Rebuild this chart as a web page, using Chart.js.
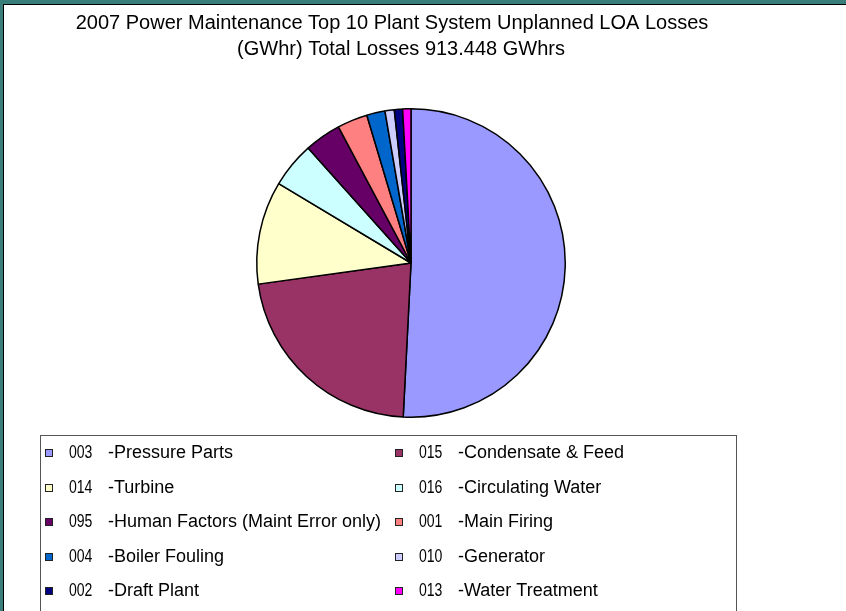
<!DOCTYPE html>
<html>
<head>
<meta charset="utf-8">
<script src="https://cdn.jsdelivr.net/npm/chart.js@4"></script>
<style>
  html, body { margin: 0; padding: 0; background: #fff; }
  #frame {
    position: absolute; left: 0; top: 0; width: 843px; height: 607px;
    border-top: 4px solid #3a7e7b; border-left: 3px solid #3a7e7b;
  }
  #inner {
    position: absolute; left: 0; top: 0; right: 0; bottom: 0;
    border-top: 1px solid #000; border-left: 1px solid #000; background: #fff;
  }
  #wrap { position: absolute; left: 0; top: 0; width: 846px; height: 611px; }
</style>
</head>
<body>
<div id="frame"><div id="inner"></div></div>
<div id="wrap"><canvas id="grafico" width="846" height="611"></canvas></div>
<script>
const titulo = [
  "2007 Power Maintenance Top 10 Plant System Unplanned LOA Losses",
  "(GWhr) Total Losses 913.448 GWhrs"
];
const codigos = ["003", "015", "014", "016", "095", "001", "004", "010", "002", "013"];
const sistemas = [
  "-Pressure Parts", "-Condensate & Feed", "-Turbine",
  "-Circulating Water", "-Human Factors (Maint Error only)",
  "-Main Firing", "-Boiler Fouling", "-Generator",
  "-Draft Plant", "-Water Treatment"
];
// GWhr
const perdidas = [464.0, 201.0, 98.5, 43.6, 35.0, 29.0, 17.5, 8.9, 7.9, 7.9];
const colores = [
  "#9999ff", "#993366", "#ffffcc", "#ccffff", "#660066",
  "#ff8080", "#0066cc", "#ccccff", "#000080", "#ff00ff"
];

const categorias = codigos.map((c, i) => c + "  " + sistemas[i]);

// titulo y leyenda en caja, dibujados a mano
const textos = {
  id: "textos",
  afterDraw(chart) {
    const ctx = chart.ctx;
    ctx.save();
    ctx.fillStyle = "#000";
    ctx.textAlign = "center";
    ctx.textBaseline = "alphabetic";
    ctx.font = "20px 'Liberation Sans', Arial, sans-serif";
    ctx.fillText(titulo[0], 392, 29);
    ctx.fillText(titulo[1], 401, 55);

    // caja de la leyenda
    ctx.strokeStyle = "#555";
    ctx.lineWidth = 1;
    ctx.strokeRect(40.5, 435.5, 696, 200);

    ctx.textAlign = "left";
    ctx.textBaseline = "middle";
    ctx.font = "18px 'Liberation Sans', Arial, sans-serif";
    codigos.forEach((cod, i) => {
      const col = i % 2;
      const fila = Math.floor(i / 2);
      const x = col === 0 ? 45 : 395;
      const y = 453 + fila * 34.6;
      ctx.fillStyle = colores[i];
      ctx.fillRect(x + 0.5, Math.round(y) - 3.5, 7, 7);
      ctx.strokeStyle = "#222";
      ctx.strokeRect(x + 0.5, Math.round(y) - 3.5, 7, 7);
      ctx.fillStyle = "#000";
      // el codigo sale mas estrecho en el original
      ctx.save();
      ctx.translate(x + 24, y);
      ctx.scale(0.78, 1);
      ctx.fillText(cod, 0, 0);
      ctx.restore();
      ctx.fillText(sistemas[i], x + 63, y);
    });
    ctx.restore();
  }
};

new Chart(document.getElementById("grafico").getContext("2d"), {
  type: "pie",
  data: {
    labels: categorias,
    datasets: [{
      data: perdidas,
      backgroundColor: colores,
      borderColor: "#000",
      borderWidth: 1.5,
      hoverOffset: 0
    }]
  },
  options: {
    responsive: false,
    animation: false,
    layout: { padding: { left: 256, right: 280, top: 108, bottom: 193 } },
    plugins: {
      legend: { display: false },
      title: { display: false },
      tooltip: { enabled: false }
    }
  },
  plugins: [textos]
});
</script>
</body>
</html>
